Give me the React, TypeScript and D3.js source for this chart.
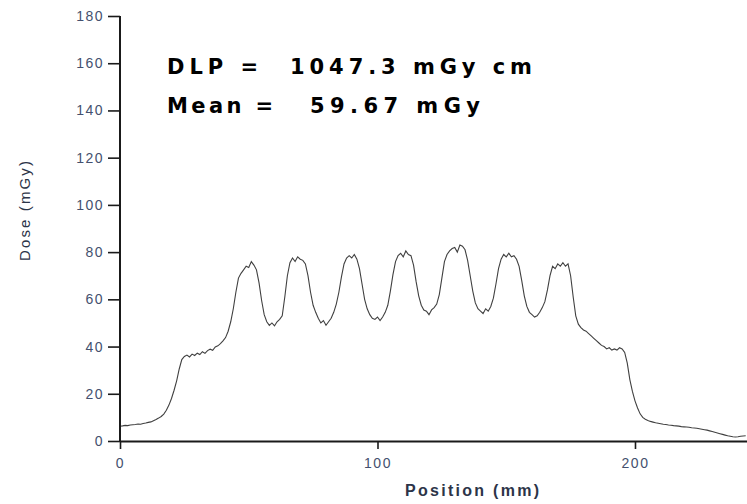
import * as d3 from 'd3';
import React, { useEffect, useRef } from 'react';

// dose profile, one reading per mm starting at 0 mm
const positionStep = 1;
const dose = [
  6.3, 6.4, 6.6, 6.5, 6.8, 6.9, 7.0, 7.2, 7.1, 7.4,
  7.6, 7.9, 8.1, 8.6, 9.1, 9.7, 10.4, 11.4, 13.0, 15.2,
  18.0, 21.5, 25.5, 30.5, 34.5, 35.8, 36.4, 35.6, 36.8, 36.2,
  37.2, 36.6, 37.8, 37.1, 38.3, 38.9, 38.4, 39.8, 40.3, 41.2,
  42.4, 43.8, 46.5, 50.5, 56.0, 63.0, 69.0, 71.0, 72.5, 74.0,
  73.5, 76.0, 74.5, 72.5, 67.0, 59.5, 53.5, 50.5, 49.0, 50.0,
  48.8, 50.5, 51.5, 53.0, 61.0, 70.0, 75.5, 77.5, 76.0, 78.0,
  77.0, 76.5, 75.0, 70.0, 63.0, 57.5, 54.5, 52.0, 50.0, 51.0,
  49.0, 50.5, 52.0, 54.5, 58.0, 63.0, 69.5, 75.0, 77.5, 78.5,
  77.5, 79.0, 77.0, 73.0, 66.5, 60.0, 56.0, 53.5, 52.0, 51.5,
  52.5, 51.0, 52.5, 54.5, 57.5, 63.5, 70.5, 76.0, 78.5, 79.5,
  78.0, 80.5, 79.0, 78.5, 74.5, 67.5, 61.5, 57.5, 55.5, 55.0,
  53.5, 55.5, 56.5, 58.0, 62.0, 69.0, 76.0, 79.0, 80.5, 81.5,
  82.0, 80.0, 83.0, 82.5, 81.0, 76.5, 70.0, 63.5, 58.5, 56.0,
  55.0, 54.0, 56.0, 55.0, 57.0, 60.5, 66.5, 73.0, 77.0, 79.0,
  78.0, 79.5, 78.0, 78.5, 77.0, 74.0, 68.0, 61.5, 57.0, 54.5,
  53.5, 52.5, 53.0, 54.5, 56.5, 59.0, 64.0, 70.0, 74.0, 73.0,
  75.0, 74.0, 75.5, 74.0, 75.0, 70.0, 61.0, 53.0, 49.5, 48.0,
  47.0, 46.5, 45.5, 44.5, 43.5, 42.5, 41.5, 40.5, 40.0, 39.0,
  39.5, 38.5, 39.0, 38.5, 39.5, 39.0, 37.5, 33.0, 26.0, 21.0,
  17.0, 14.0, 11.5, 10.0, 9.2, 8.7, 8.3, 8.0, 7.7, 7.5,
  7.3, 7.1, 7.0, 6.8, 6.7, 6.5, 6.4, 6.3, 6.1, 6.0,
  5.9, 5.8, 5.6, 5.5, 5.4, 5.2, 5.0, 4.8, 4.6, 4.3,
  4.0, 3.7, 3.4, 3.1, 2.8, 2.5, 2.2, 2.0, 1.8, 1.7,
  1.8, 2.0, 2.1, 2.2
];

const yMajor = [0, 20, 40, 60, 80, 100, 120, 140, 160, 180];
const yMinor = [10, 30, 50, 70, 90, 110, 130, 150, 170];
const xMajor = [0, 100, 200];
const xMinor = [50, 150];

const W = 747;
const H = 504;

export default function App() {
  const ref = useRef<SVGSVGElement>(null);

  useEffect(() => {
    const svg = d3.select(ref.current);
    svg.selectAll('*').remove();

    const x = d3.scaleLinear().domain([0, 243.5]).range([120, W]);
    const y = d3.scaleLinear().domain([0, 180]).range([441, 16]);

    const pts = dose.map((d, i) => ({ pos: i * positionStep, val: d }));

    const line = d3.line<{ pos: number; val: number }>()
      .x(d => x(d.pos))
      .y(d => y(d.val));

    svg.append('path')
      .attr('d', line(pts))
      .style('fill', 'none')
      .style('stroke', '#404040')
      .style('stroke-width', 1.1);

    const font = '"Liberation Sans", Arial, sans-serif';
    const heavy = '"DejaVu Sans", "Liberation Sans", Arial, sans-serif';

    // y axis
    const gy = svg.append('g').attr('transform', 'translate(120,0)');
    gy.call(d3.axisLeft(y).tickValues(yMinor).tickSize(6).tickSizeOuter(0).tickFormat(() => ''));
    gy.call(d3.axisLeft(y).tickValues(yMajor).tickSize(12).tickSizeOuter(0).tickPadding(4));
    gy.select('.domain').attr('d', `M0,${y(0)}V${y(180)}`);

    // x axis
    const gx = svg.append('g').attr('transform', 'translate(0,441)');
    gx.call(d3.axisBottom(x).tickValues(xMinor).tickSize(5).tickSizeOuter(0).tickFormat(() => ''));
    gx.call(d3.axisBottom(x).tickValues(xMajor).tickSize(8).tickSizeOuter(0).tickPadding(9));

    svg.selectAll('.domain').style('stroke', '#1a1a1a').style('stroke-width', 2);
    svg.selectAll('.tick line').style('stroke', '#1a1a1a').style('stroke-width', 1.6);
    svg.selectAll('.tick text')
      .style('font-family', font)
      .style('font-size', '14px')
      .style('letter-spacing', '1.5px')
      .style('fill', '#44506e');

    // axis titles
    svg.append('text')
      .attr('x', 472)
      .attr('y', 496)
      .attr('text-anchor', 'middle')
      .attr('textLength', 134)
      .style('font-family', font)
      .style('font-size', '16px')
      .style('font-weight', 'bold')
      .style('fill', '#2c3448')
      .text('Position (mm)');

    svg.append('text')
      .attr('transform', 'translate(30,211) rotate(-90)')
      .attr('text-anchor', 'middle')
      .attr('textLength', 100)
      .style('font-family', font)
      .style('font-size', '15px')
      .style('fill', '#2c3448')
      .text('Dose (mGy)');

    // annotation
    const note = [
      { label: 'DLP =', value: '1047.3 mGy cm', y: 74, lw: 91, vx: 290, vw: 242 },
      { label: 'Mean =', value: '59.67 mGy', y: 113, lw: 106, vx: 310, vw: 170 }
    ];
    note.forEach(n => {
      svg.append('text')
        .attr('x', 167)
        .attr('y', n.y)
        .attr('textLength', n.lw)
        .style('font-family', heavy)
        .style('font-size', '21px')
        .style('font-weight', 'bold')
        .style('fill', '#000')
        .text(n.label);
      svg.append('text')
        .attr('x', n.vx)
        .attr('y', n.y)
        .attr('textLength', n.vw)
        .style('font-family', heavy)
        .style('font-size', '21px')
        .style('font-weight', 'bold')
        .style('fill', '#000')
        .text(n.value);
    });
  }, []);

  return (
    <svg
      ref={ref}
      width={W}
      height={H}
      style={{ position: 'fixed', left: 0, top: 0, background: '#fff' }}
    />
  );
}
